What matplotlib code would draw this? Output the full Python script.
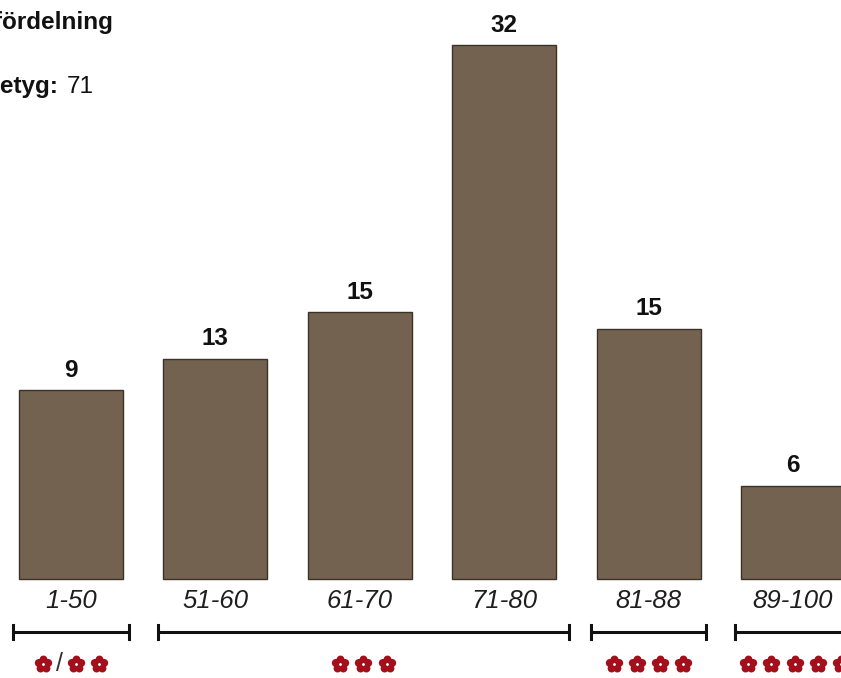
import numpy as np
import matplotlib.pyplot as plt
from matplotlib.path import Path

# Betygsfördelning
ranges = ['1-50', '51-60', '61-70', '71-80', '81-88', '89-100']
counts = [9, 13, 15, 32, 15, 6]
# bar heights as drawn in the picture (not exactly proportional to the labels)
bar_heights = [11.3, 13.2, 16.0, 32.0, 15.0, 5.6]

# bracket groups: (first bar, last bar, symbols)  '*' = flower, '/' = slash
groups = [(0, 0, '*/**'),
          (1, 3, '***'),
          (4, 4, '****'),
          (5, 5, '*****')]

title = 'Betygsfördelning'
mean_label = 'Medelbetyg:'
mean_value = 71

plt.rcParams['font.family'] = ['Liberation Sans', 'DejaVu Sans']

# flower marker: five round petals
petals = []
for k in range(5):
    a = np.pi / 2 + k * 2 * np.pi / 5
    petals.append(Path.circle((0.52 * np.cos(a), 0.52 * np.sin(a)), 0.42))
flower = Path.make_compound_path(*petals)

fig = plt.figure(figsize=(8.41, 6.78), dpi=100, facecolor='white')
ax = fig.add_axes([0, 0, 1, 1])
ax.set_xlim(-0.4917, 5.332)
ax.set_ylim(-5.93, 34.69)
ax.axis('off')

bar_w = 0.72
x = list(range(len(ranges)))
ax.bar(x, bar_heights, width=bar_w, color='#736250', edgecolor='#3b3229', linewidth=1.0)

for xi, h, c in zip(x, bar_heights, counts):
    ax.annotate(str(c), (xi, h), xytext=(0, 6), textcoords='offset points',
                ha='center', va='bottom', fontsize=17.5, fontweight='bold', color='#111111')

for xi, r in zip(x, ranges):
    ax.text(xi, -1.32, r, ha='center', va='center', fontsize=18.5, style='italic', color='#1e1e1e')

pad = 0.04
step = 0.160      # distance between flowers
slash_w = 0.07
red = '#a3101c'
for first, last, sym in groups:
    x0 = first - bar_w / 2 - pad
    x1 = last + bar_w / 2 + pad
    if last - first > 1:
        x1 += 0.05
    y = -3.2
    ax.plot([x0, x1], [y, y], color='#111111', lw=2.2, solid_capstyle='butt')
    ax.plot([x0, x0], [y - 0.42, y + 0.42], color='#111111', lw=2.2)
    ax.plot([x1, x1], [y - 0.42, y + 0.42], color='#111111', lw=2.2)

    widths = [step if ch == '*' else slash_w for ch in sym]
    total = sum(widths)
    if last < 5:
        cur = (x0 + x1) / 2 - total / 2
    else:
        cur = x0 + 0.01
    fy = -5.1
    for ch, w in zip(sym, widths):
        cx = cur + w / 2
        if ch == '*':
            ax.scatter([cx], [fy], marker=flower, s=165, color=red, linewidths=0, zorder=3)
            ax.scatter([cx], [fy], marker='o', s=4, color='white', linewidths=0, zorder=4)
        else:
            ax.text(cx, fy, '/', ha='center', va='center', fontsize=18, color='#333333')
        cur += w

# title texts, cut off at the left edge like the reference
fig.text(113 / 841, 1 - 22 / 678, title, ha='right', va='center',
         fontsize=17.5, fontweight='bold', color='#111111')
fig.text(58 / 841, 1 - 87 / 678, mean_label, ha='right', va='center',
         fontsize=17.5, fontweight='bold', color='#111111')
fig.text(67 / 841, 1 - 87 / 678, str(mean_value), ha='left', va='center',
         fontsize=17.5, color='#111111')

fig.savefig('out.png', dpi=100)
